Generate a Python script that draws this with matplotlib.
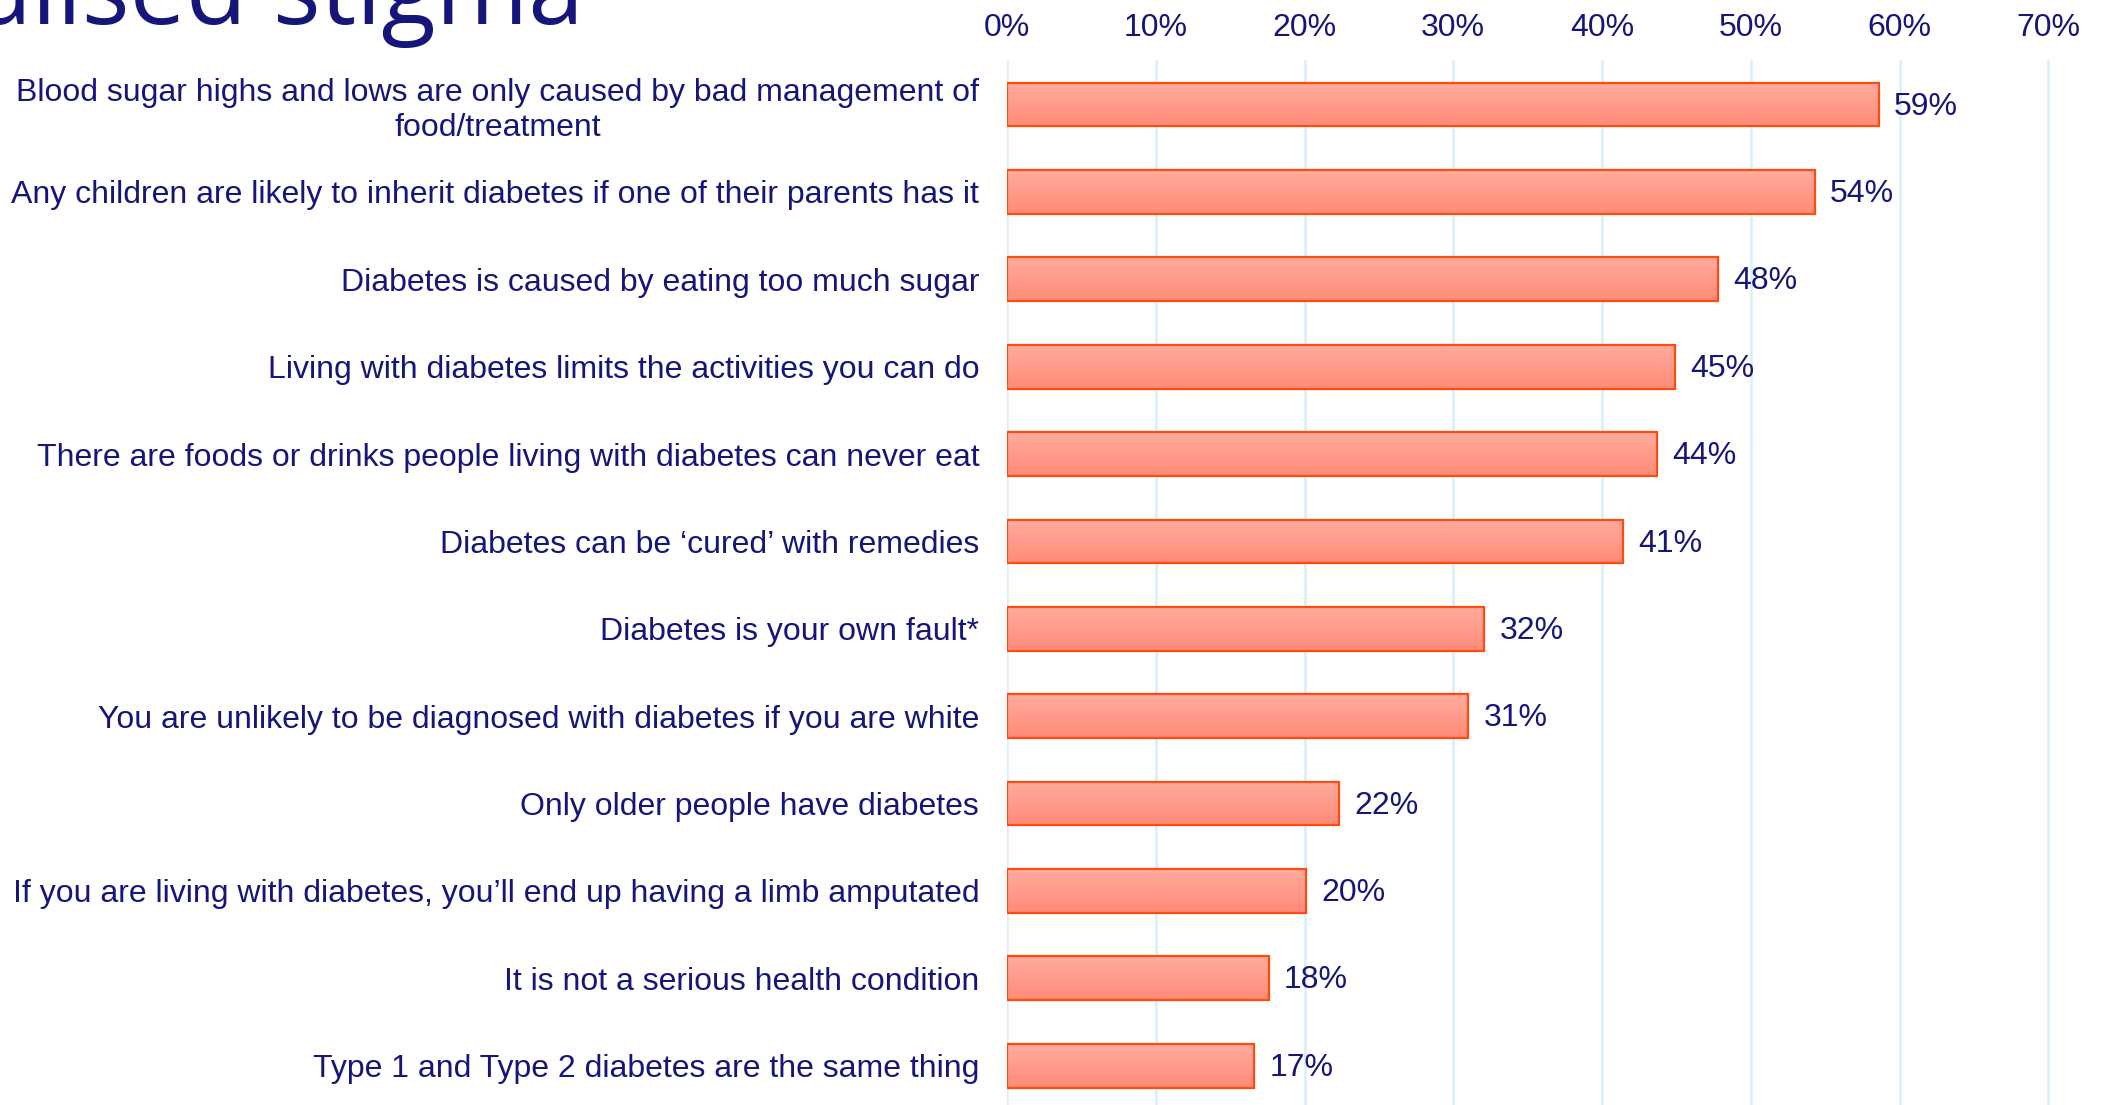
import matplotlib
matplotlib.use('Agg')
import matplotlib.pyplot as plt
from matplotlib.colors import LinearSegmentedColormap
import numpy as np

# Data (bar lengths in %, labels are rounded)
statements = [
    'Blood sugar highs and lows are only caused by bad management of\nfood/treatment',
    'Any children are likely to inherit diabetes if one of their parents has it',
    'Diabetes is caused by eating too much sugar',
    'Living with diabetes limits the activities you can do',
    'There are foods or drinks people living with diabetes can never eat',
    'Diabetes can be \u2018cured\u2019 with remedies',
    'Diabetes is your own fault*',
    'You are unlikely to be diagnosed with diabetes if you are white',
    'Only older people have diabetes',
    'If you are living with diabetes, you\u2019ll end up having a limb amputated',
    'It is not a serious health condition',
    'Type 1 and Type 2 diabetes are the same thing',
]
values = [58.6, 54.3, 47.8, 44.9, 43.7, 41.4, 32.1, 31.0, 22.3, 20.1, 17.6, 16.6]
x_ticks = [0, 10, 20, 30, 40, 50, 60, 70]
title = 'Internalised stigma'

navy = '#15157a'
edge = '#ff4a10'
grid_col = '#d9f1fb'

plt.rcParams['font.family'] = ['Liberation Sans', 'DejaVu Sans']

fig = plt.figure(figsize=(21.08, 11.05), dpi=100)
ax = fig.add_axes([1007 / 2108, 0, (2078 - 1007) / 2108, 1 - 60 / 1105])

y = np.arange(len(values))
h = 0.5
grad = LinearSegmentedColormap.from_list('bar', ['#ffab9e', '#ff8b78'])
g = np.linspace(0, 1, 64).reshape(-1, 1)

for yi, v in zip(y, values):
    ax.imshow(g, cmap=grad, aspect='auto', extent=[0, v, yi + h / 2, yi - h / 2],
              zorder=2, interpolation='bilinear')
    ax.annotate(f'{round(v)}%', xy=(v, yi), xytext=(11, -1.5), textcoords='offset points',
                va='center', ha='left', fontsize=23, color=navy)

ax.barh(y, values, height=h, facecolor='none', edgecolor=edge, linewidth=1.6, zorder=3)

ax.set_xlim(0, 72)
ax.set_ylim(len(values) - 0.55, -0.51)

ax.set_xticks(x_ticks)
ax.set_xticklabels([f'{t}%' for t in x_ticks])
ax.xaxis.tick_top()
ax.tick_params(axis='x', length=0, pad=12.5, labelsize=23, labelcolor=navy)

ax.set_yticks(y)
ax.set_yticklabels(statements, multialignment='center')
ax.tick_params(axis='y', length=0, pad=20, labelsize=23, labelcolor=navy)

for t in x_ticks:
    ax.axvline(t, color=grid_col, linewidth=2, zorder=1)

for s in ax.spines.values():
    s.set_visible(False)

fig.text(584 / 2108, 1 - 24 / 1105, title, ha='right', va='baseline',
         fontsize=72, color=navy, family=['Open Sans', 'DejaVu Sans'])

fig.savefig('out.png', dpi=100)
